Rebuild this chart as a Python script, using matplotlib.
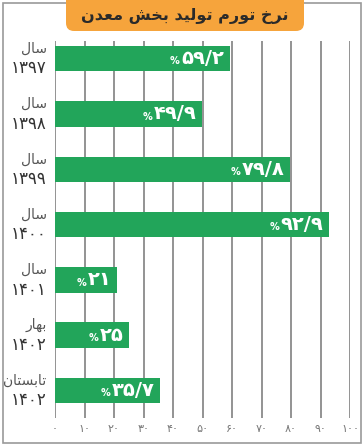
import matplotlib
matplotlib.use("Agg")
import matplotlib.pyplot as plt
from matplotlib.patches import FancyBboxPatch, Rectangle

# --- data ---
# labels (visual order, Arabic presentation forms for correct shaping)
top_labels = ["ﻝﺎﺳ", "ﻝﺎﺳ", "ﻝﺎﺳ", "ﻝﺎﺳ", "ﻝﺎﺳ", "ﺭﺎﻬﺑ", "ﻥﺎﺘﺴﺑﺎﺗ"]
year_labels = ["۱۳۹۷", "۱۳۹۸", "۱۳۹۹", "۱۴۰۰", "۱۴۰۱", "۱۴۰۲", "۱۴۰۲"]
values = [59.2, 49.9, 79.8, 92.9, 21, 25, 35.7]
value_texts = ["۵۹/۲", "۴۹/۹", "۷۹/۸", "۹۲/۹", "۲۱", "۲۵", "۳۵/۷"]
tick_values = [0, 10, 20, 30, 40, 50, 60, 70, 80, 90, 100]
tick_labels = ["۰", "۱۰", "۲۰", "۳۰", "۴۰", "۵۰", "۶۰", "۷۰", "۸۰", "۹۰", "۱۰۰"]
title = "ﻥﺪﻌﻣ ﺶﺨﺑ ﺪﻴﻟﻮﺗ ﻡﺭﻮﺗ ﺥﺮﻧ"

GREEN = "#22a55a"
ORANGE = "#f6a43c"
GRID = "#8a8a8a"

plt.rcParams['font.family'] = ['DejaVu Sans']

W, H = 364, 446
fig = plt.figure(figsize=(W / 100, H / 100), dpi=100)

# outer border
fig.patches.append(Rectangle((3 / W, 3 / H), 358 / W, 440 / H, transform=fig.transFigure,
                             fill=False, edgecolor="#9a9a9a", linewidth=1.2))

# title box (rounded bottom corners)
fig.patches.append(FancyBboxPatch((66 / W, 1 - 31 / H), 238 / W, 28 / H, transform=fig.transFigure,
                                  boxstyle="round,pad=0,rounding_size=0.022",
                                  facecolor=ORANGE, edgecolor="none", mutation_aspect=W / H,
                                  zorder=5))
fig.patches.append(Rectangle((66 / W, 1 - 14 / H), 238 / W, 14 / H, transform=fig.transFigure,
                             facecolor=ORANGE, edgecolor="none", zorder=5))
fig.text(185 / W, 1 - 16 / H, title, ha="center", va="center", fontsize=11.5,
         fontweight="bold", color="#2a2a2a", zorder=6)

ax = fig.add_axes([55 / W, 1 - 418 / H, 295 / W, 377 / H])
ypos = list(range(len(values)))
ax.set_xlim(0, 100)
ax.set_ylim(6.5, -0.32)

for x in tick_values:
    ax.axvline(x, color=GRID, linewidth=1.3, zorder=1)

ax.barh(ypos, values, height=0.46, color=GREEN, zorder=2)

for s in ax.spines.values():
    s.set_visible(False)
ax.set_yticks([])
ax.set_xticks(tick_values)
ax.set_xticklabels(tick_labels, fontsize=8, color="#777777")
ax.tick_params(axis="x", length=0, pad=4)

fig.canvas.draw()
renderer = fig.canvas.get_renderer()
for y, v, t in zip(ypos, values, value_texts):
    txt = ax.annotate(t, xy=(v, y), xytext=(-4, 0), textcoords="offset points",
                      ha="right", va="center", fontsize=14, fontweight="bold",
                      color="white", zorder=3)
    bb = txt.get_window_extent(renderer)
    w_pts = bb.width * 72 / fig.dpi
    ax.annotate("%", xy=(v, y), xytext=(-4 - w_pts - 1, -2), textcoords="offset points",
                ha="right", va="center", fontsize=7, fontweight="bold",
                color="white", zorder=3)
    # side labels
    ax.annotate(top_labels[y], xy=(0, y), xytext=(-6, 7), textcoords="offset points",
                ha="right", va="center", fontsize=10, color="#555555",
                annotation_clip=False)
    ax.annotate(year_labels[y], xy=(0, y), xytext=(-6, -7), textcoords="offset points",
                ha="right", va="center", fontsize=12, color="#333333",
                annotation_clip=False)

fig.savefig("out.png", dpi=100)
